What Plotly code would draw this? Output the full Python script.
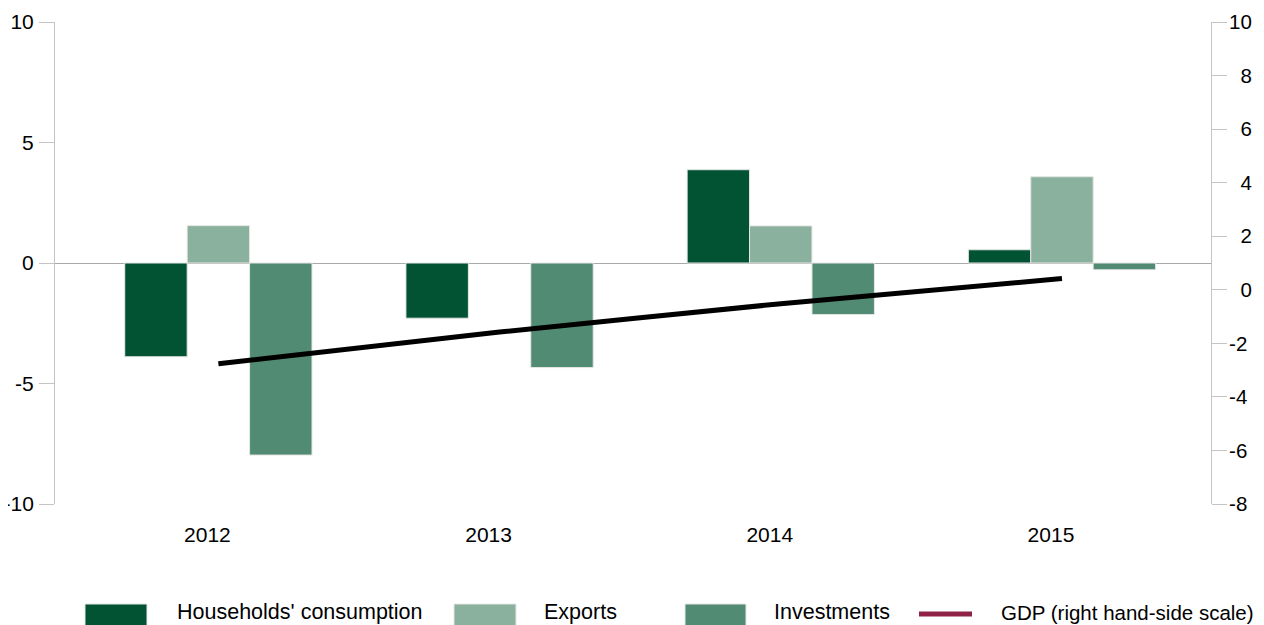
import plotly.graph_objects as go

# ---- data ----
categories = ["2012", "2013", "2014", "2015"]
households = [-3.89, -2.29, 3.87, 0.55]
exports = [1.55, None, 1.54, 3.58]
investments = [-7.97, -4.34, -2.14, -0.28]
gdp = [-2.76, -1.58, -0.52, 0.42]
left_ticks = [10, 5, 0, -5, -10]
right_ticks = [10, 8, 6, 4, 2, 0, -2, -4, -6, -8]
series_names = ["Households' consumption", "Exports", "Investments", "GDP (right hand-side scale)"]

# ---- styles ----
OFF = 8                      # page body margin
W, H = 1264 - 2 * OFF, 625 - OFF
ML, MT = 55 - OFF, 22 - OFF
MR = W - (1211 - OFF)
MB = H - (504 - OFF)
C_HH = "#025334"
C_EX = "#8AB19D"
C_IN = "#528B73"
C_GDP_LEG = "#8F2046"
AX = "#c4c4c4"
FONT = "Liberation Sans, Arial, Helvetica, sans-serif"

fig = go.Figure()
for name, vals, col in [(series_names[0], households, C_HH),
                        (series_names[1], exports, C_EX),
                        (series_names[2], investments, C_IN)]:
    fig.add_trace(go.Bar(x=categories, y=vals, name=name, marker_color=col,
                         marker_line_color="#e6e6e6", marker_line_width=1,
                         showlegend=False, yaxis="y"))

fig.add_trace(go.Scatter(x=categories, y=gdp, name=series_names[3], mode="lines",
                         line=dict(color="black", width=5, shape="spline", smoothing=0.4),
                         showlegend=False, yaxis="y2"))

def rt(v):
    s = str(v)
    return ("\u2007" + s) if len(s) == 1 else s

fig.update_layout(
    width=W, height=H,
    margin=dict(l=ML, r=MR, t=MT, b=MB, autoexpand=False),
    paper_bgcolor="white", plot_bgcolor="white",
    font=dict(family=FONT, size=21, color="black"),
    barmode="group", bargap=0.334, bargroupgap=0,
    xaxis=dict(type="category", range=[-0.581, 3.53], showline=False, ticks="",
               showgrid=False, zeroline=False, ticklabelstandoff=16, ticklabelshift=-11,
               tickfont=dict(size=21), automargin=False),
    yaxis=dict(range=[-10, 10], tickvals=left_ticks, ticktext=[str(v) for v in left_ticks],
               showline=True, linecolor=AX, linewidth=1,
               ticks="outside", ticklen=15, tickcolor=AX, tickwidth=1, showgrid=False,
               zeroline=True, zerolinecolor="#aaaaaa", zerolinewidth=1,
               ticklabelstandoff=1, tickfont=dict(size=21), automargin=False),
    yaxis2=dict(range=[-8, 10], overlaying="y", side="right", tickvals=right_ticks,
                ticktext=[rt(v) for v in right_ticks], showline=True, linecolor=AX, linewidth=1,
                ticks="outside", ticklen=15, tickcolor=AX, tickwidth=1, showgrid=False,
                zeroline=False, ticklabelstandoff=-2, tickfont=dict(size=20.5), automargin=False),
)

# ---- manual legend (paper coords derived from page-pixel layout) ----
pw, ph = W - ML - MR, H - MT - MB
def px(x):
    return (x - OFF - ML) / pw
def py(y):
    return (H - MB - (y - OFF)) / ph

legend_items = [
    ("box", C_HH, 85, 147, 175, 21.5),
    ("box", C_EX, 454, 516, 542, 21.5),
    ("box", C_IN, 685, 746, 772, 21.5),
    ("line", C_GDP_LEG, 919, 972, 999, 20.5),
]
for (kind, col, x0, x1, tx, fs), name in zip(legend_items, series_names):
    if kind == "box":
        fig.add_shape(type="rect", xref="paper", yref="paper",
                      x0=px(x0), x1=px(x1), y0=py(604), y1=py(630),
                      fillcolor=col, line=dict(color="#e6e6e6", width=1))
    else:
        fig.add_shape(type="line", xref="paper", yref="paper",
                      x0=px(x0), x1=px(x1), y0=py(614), y1=py(614),
                      line=dict(color=col, width=5))
    fig.add_annotation(text=name, xref="paper", yref="paper", x=px(tx), y=py(612),
                       xanchor="left", yanchor="middle", showarrow=False,
                       font=dict(size=fs, color="black"))

fig.write_html("out.html")
